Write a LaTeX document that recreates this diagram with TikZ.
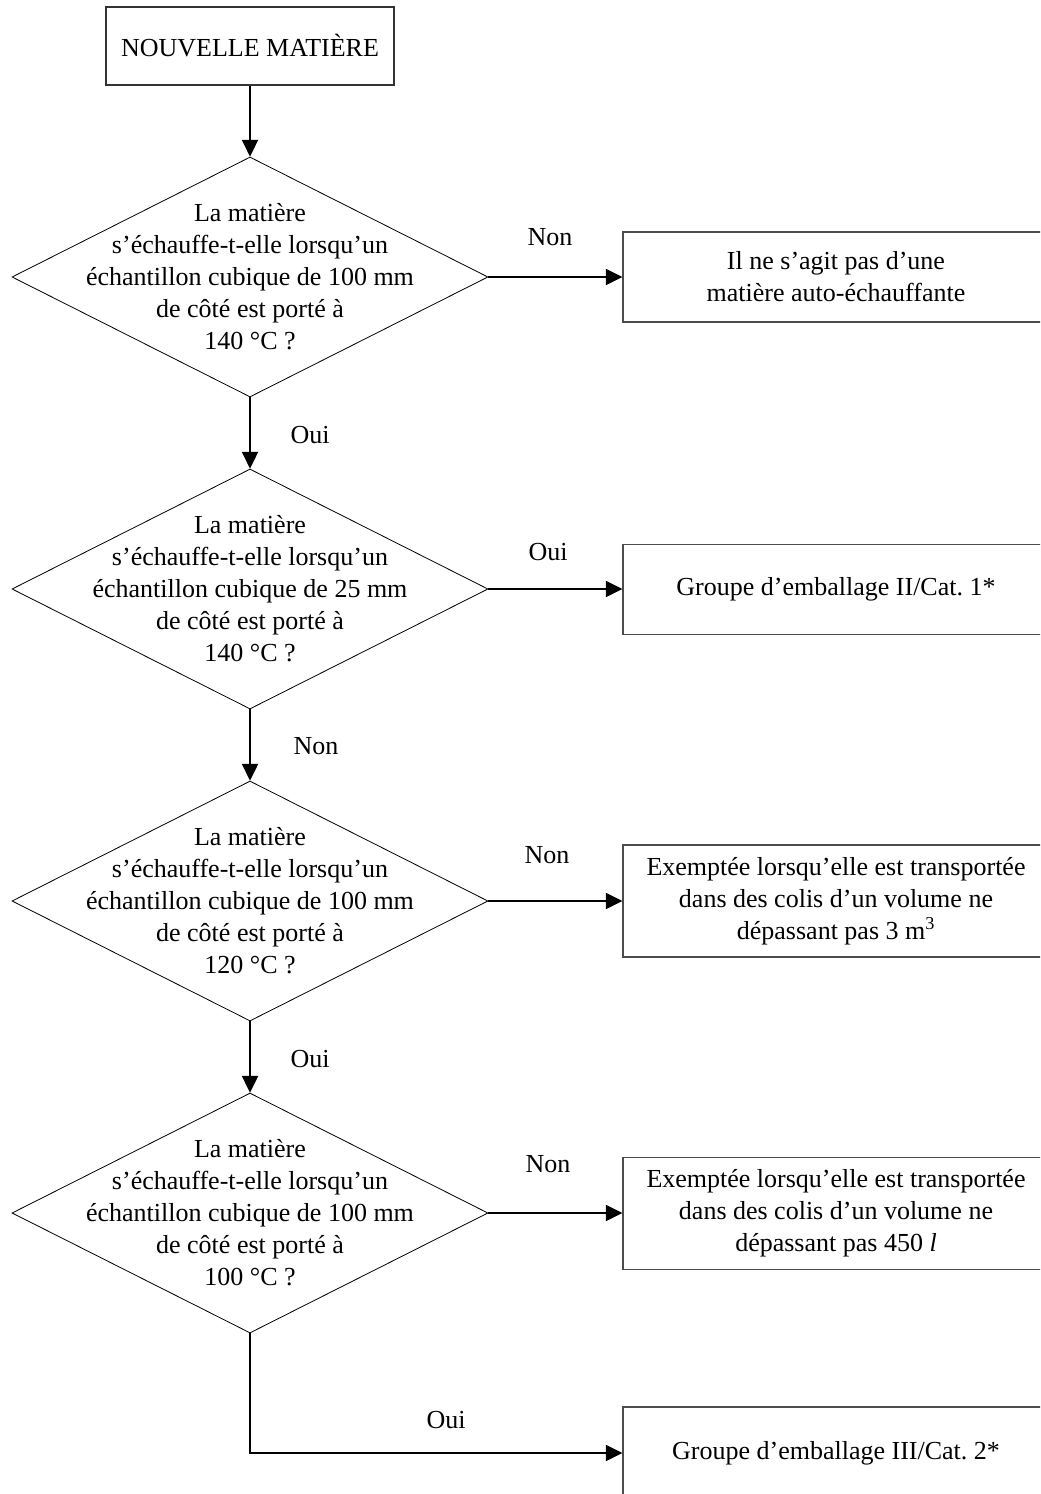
\documentclass[tikz,border=0pt]{standalone}
\usepackage{fontspec}
\setmainfont{Liberation Serif}
\usetikzlibrary{shapes.geometric,arrows.meta}
\frenchspacing
\begin{document}
\begin{tikzpicture}[x=0.75pt,y=-0.75pt,
  every node/.style={font=\fontsize{19.5}{24}\selectfont},
  startbox/.style={draw=black!80,line width=0.8pt,minimum width=216pt,minimum height=58.5pt,inner sep=0},
  outbox/.style={draw=black!70,line width=0.8pt,minimum width=319.5pt,inner sep=0,align=center},
  decision/.style={draw,diamond,line width=0.6pt,minimum width=357pt,minimum height=180pt,inner sep=0},
  qtext/.style={align=center,inner sep=0},
  lbl/.style={inner sep=0},
  conn/.style={line width=1.5pt,-{Triangle[length=12.5pt,width=12pt]}}]
\useasboundingbox (0,0) rectangle (1040,1494);
\clip (0,0) rectangle (1040,1494);

\node[startbox] (start) at (250,46) {NOUVELLE MATIÈRE};

\node[decision] (d1) at (250,277) {};
\node[qtext] (t1) at (d1.center) {La matière\\s’échauffe-t-elle lorsqu’un\\échantillon cubique de 100 mm\\de côté est porté à\\140 °C ?};
\node[decision] (d2) at (250,589) {};
\node[qtext] (t2) at (d2.center) {La matière\\s’échauffe-t-elle lorsqu’un\\échantillon cubique de 25 mm\\de côté est porté à\\140 °C ?};
\node[decision] (d3) at (250,901) {};
\node[qtext] (t3) at (d3.center) {La matière\\s’échauffe-t-elle lorsqu’un\\échantillon cubique de 100 mm\\de côté est porté à\\120 °C ?};
\node[decision] (d4) at (250,1213) {};
\node[qtext] (t4) at (d4.center) {La matière\\s’échauffe-t-elle lorsqu’un\\échantillon cubique de 100 mm\\de côté est porté à\\100 °C ?};

\node[outbox,minimum height=67.5pt] (b1) at (836,277) {Il ne s’agit pas d’une\\matière auto-échauffante};
\node[outbox,minimum height=68pt] (b2) at (836,589.5) {Groupe d’emballage II/Cat. 1*};
\node[outbox,minimum height=84pt] (b3) at (836,901) {Exemptée lorsqu’elle est transportée\\dans des colis d’un volume ne\\dépassant pas 3 m\textsuperscript{3}};
\node[outbox,minimum height=84.5pt] (b4) at (836,1213.5) {Exemptée lorsqu’elle est transportée\\dans des colis d’un volume ne\\dépassant pas 450 \textit{l}};
\node[outbox,minimum height=69pt] (b5) at (836,1453) {Groupe d’emballage III/Cat. 2*};

\draw[conn] (start.south) -- (d1.north);
\draw[conn] (d1.east) -- (b1.west);
\draw[conn] (d1.south) -- (d2.north);
\draw[conn] (d2.east) -- (b2.west |- d2.east);
\draw[conn] (d2.south) -- (d3.north);
\draw[conn] (d3.east) -- (b3.west);
\draw[conn] (d3.south) -- (d4.north);
\draw[conn] (d4.east) -- (b4.west |- d4.east);
\draw[conn] (d4.south) |- (b5.west);

\node[lbl] (l1) at (550,237) {Non};
\node[lbl] (l2) at (310,435) {Oui};
\node[lbl] (l3) at (548,552) {Oui};
\node[lbl] (l4) at (316,746) {Non};
\node[lbl] (l5) at (547,855) {Non};
\node[lbl] (l6) at (310,1059) {Oui};
\node[lbl] (l7) at (548,1164) {Non};
\node[lbl] (l8) at (446,1420) {Oui};
\end{tikzpicture}
\end{document}
